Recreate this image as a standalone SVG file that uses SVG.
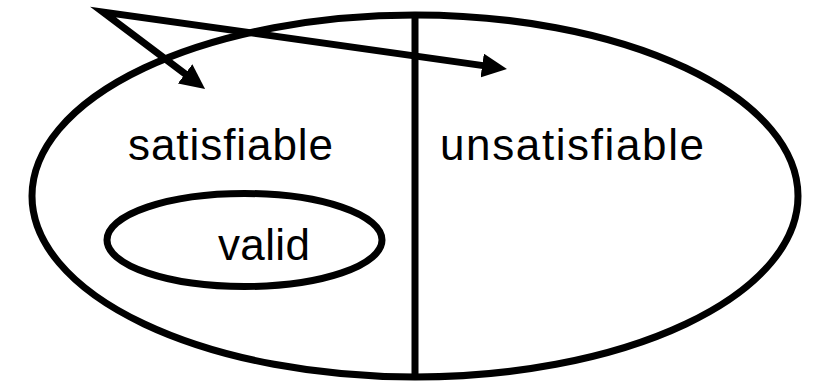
<svg xmlns="http://www.w3.org/2000/svg" width="813" height="382" viewBox="0 0 813 382">
<style>
.shape{fill:none;stroke:#000;stroke-width:7}
.conn{fill:none;stroke:#000;stroke-width:7;stroke-linecap:butt;stroke-linejoin:miter}
.lbl{font-family:"Liberation Sans",Arial,sans-serif;font-size:44px;fill:#000}
</style>
<defs>
<marker id="ah" markerUnits="userSpaceOnUse" markerWidth="26" markerHeight="24" viewBox="0 0 26 24" refX="10" refY="12" orient="auto-start-reverse">
<path d="M0,0 L25,12 L0,24 z" fill="#000"/>
</marker>
</defs>
<g id="universe">
<ellipse class="shape" cx="415" cy="196" rx="383" ry="181"/>
<line class="shape" x1="415" y1="15" x2="415" y2="377"/>
</g>
<g id="satisfiable">
<text class="lbl" x="128" y="160" textLength="205" lengthAdjust="spacing">satisfiable</text>
</g>
<g id="unsatisfiable">
<text class="lbl" x="440" y="160" textLength="264" lengthAdjust="spacing">unsatisfiable</text>
</g>
<g id="valid">
<ellipse class="shape" cx="244.5" cy="240" rx="137.5" ry="46.5"/>
<text class="lbl" x="218" y="260" textLength="92" lengthAdjust="spacing">valid</text>
</g>
<g id="connectors">
<path class="conn" d="M193.1,79.9 L103,12 L492.1,66.9" marker-start="url(#ah)" marker-end="url(#ah)"/>
</g>
</svg>
